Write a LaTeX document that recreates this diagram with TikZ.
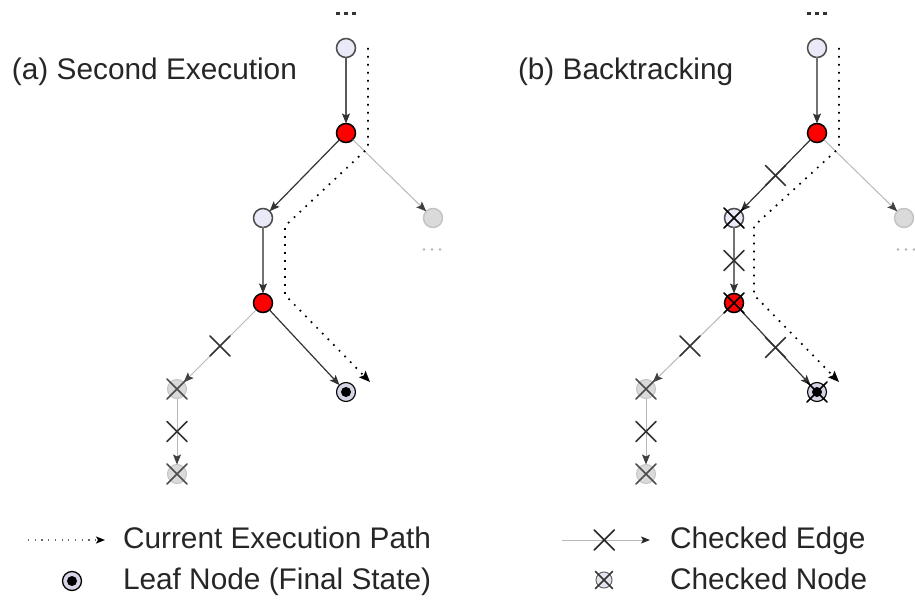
\documentclass[tikz,border=0pt]{standalone}
\usepackage{fontspec}
\setmainfont{Liberation Sans}
\usetikzlibrary{arrows.meta}

\definecolor{lav}{HTML}{E9E9F7}
\definecolor{ring}{HTML}{D4D4E4}
\definecolor{fadefill}{HTML}{DADADA}
\definecolor{fadedraw}{HTML}{C4C4C4}
\definecolor{hotred}{HTML}{FF0000}

\tikzset{
  every node/.style={inner sep=0pt, outer sep=0pt},
  state/.style={circle, minimum size=19pt, line width=1.5pt},
  plainstate/.style={state, draw=black!70, fill=lav},
  hotstate/.style={state, draw=black, fill=hotred},
  fadestate/.style={state, draw=fadedraw, fill=fadefill},
  leafstate/.style={state, draw=black, line width=1.1pt, fill=ring,
    path picture={\fill[black] (path picture bounding box.center) circle (5pt);}},
  tip/.style={-{Stealth[length=10pt,width=8pt,inset=2pt,color=#1]}},
  edge/.style={line width=1.2pt, draw=#1, tip=black!80},
  softedge/.style={line width=1pt, draw=black!28, tip=black!75},
  curpath/.style={line width=1.7pt, dash pattern=on 1.7pt off 6.3pt,
    -{Stealth[length=11pt,width=9pt,inset=2pt,color=black]}},
  pics/xcross/.style={code={\draw[-, solid, line width=1.6pt, draw=#1, line cap=round]
      (-10,-10) -- (10,10) (-10,10) -- (10,-10);}},
  pics/xcross/.default=black!80,
  label/.style={font=\fontsize{29.8}{35}\selectfont, anchor=base west, text=black!85},
}

\begin{document}
\begin{tikzpicture}[x=1pt,y=-1pt]
\useasboundingbox (0,0) rectangle (915,601);

% ---------- (a) second execution ----------
\node[label] (ta) at (12,80) {(a) Second Execution};

\foreach \dx in {-8,0,8} \fill[black!80] (346+\dx-1.6,12) rectangle ++(3.2,3.2);

\node[plainstate] (a1) at (346,48) {};
\node[hotstate]   (a2) at (346,133) {};
\node[plainstate] (a3) at (263,218) {};
\node[fadestate]  (a4) at (433,218) {};
\node[hotstate]   (a5) at (263,303) {};
\node[leafstate]  (a6) at (346,392) {};
\node[fadestate, line width=1pt]  (a7) at (177,389) {};
\node[fadestate, line width=1pt]  (a8) at (177,474) {};

\foreach \dx in {-8,0,8} \fill[black!30] (432+\dx,249.5) circle (1.4);

\draw[edge=black!65] (a1) -- (a2);
\draw[edge=black!80] (a2) -- (a3);
\draw[softedge] (a2) -- (a4);
\draw[edge=black!55] (a3) -- (a5);
\draw[edge=black!80] (a5) -- (a6);
\draw[softedge] (a5) -- (a7) coordinate[pos=0.5] (xa57);
\draw[softedge] (a7) -- (a8) coordinate[pos=0.5] (xa78);
\pic at (xa57) {xcross};
\pic at (xa78) {xcross};
\pic at (a7) {xcross=black!70};
\pic at (a8) {xcross=black!70};

\coordinate (pa0) at (368,48);
\coordinate (pa1) at (368,148);
\coordinate (pa2) at (285,226);
\coordinate (pa3) at (285,295);
\coordinate (pa4) at (370,382);
\draw[curpath] (pa0) -- (pa1) -- (pa2) -- (pa3) -- (pa4);

% ---------- (b) backtracking ----------
\node[label] (tb) at (518,80) {(b) Backtracking};

\foreach \dx in {-8,0,8} \fill[black!80] (817+\dx-1.6,12) rectangle ++(3.2,3.2);

\node[plainstate] (b1) at (817,48) {};
\node[hotstate]   (b2) at (817,133) {};
\node[plainstate] (b3) at (734,218) {};
\node[fadestate]  (b4) at (904,218) {};
\node[hotstate]   (b5) at (734,303) {};
\node[leafstate]  (b6) at (817,392) {};
\node[fadestate, line width=1pt]  (b7) at (646,389) {};
\node[fadestate, line width=1pt]  (b8) at (646,474) {};

\foreach \dx in {-8,0,8} \fill[black!30] (906+\dx,249.5) circle (1.4);

\draw[edge=black!55] (b1) -- (b2);
\draw[edge=black!80] (b2) -- (b3) coordinate[pos=0.5] (xb23);
\draw[softedge] (b2) -- (b4);
\draw[edge=black!55] (b3) -- (b5) coordinate[pos=0.5] (xb35);
\draw[edge=black!80] (b5) -- (b6) coordinate[pos=0.5] (xb56);
\draw[softedge] (b5) -- (b7) coordinate[pos=0.5] (xb57);
\draw[softedge] (b7) -- (b8) coordinate[pos=0.5] (xb78);
\foreach \c in {xb23,xb35,xb56,xb57,xb78} \pic at (\c) {xcross};
\foreach \n in {b3,b5,b6} \pic at (\n) {xcross=black};
\foreach \n in {b7,b8} \pic at (\n) {xcross=black!70};

\coordinate (pb0) at (839,48);
\coordinate (pb1) at (839,148);
\coordinate (pb2) at (754,226);
\coordinate (pb3) at (754,295);
\coordinate (pb4) at (839,382);
\draw[curpath] (pb0) -- (pb1) -- (pb2) -- (pb3) -- (pb4);

% ---------- legend ----------
\coordinate (l1a) at (28,540);
\coordinate (l1b) at (105,540);
\draw[curpath, line width=1.2pt, dash pattern=on 1.2pt off 5.5pt, draw=black!60,
  -{Stealth[length=9pt,width=7pt,inset=2pt,color=black]}] (l1a) -- (l1b);
\node[label] (t1) at (123,548) {Current Execution Path};

\node[leafstate, minimum size=19pt, line width=1.3pt,
  path picture={\fill[black] (path picture bounding box.center) circle (5pt);}]
  (leg2) at (72,581) {};
\node[label] (t2) at (123,589) {Leaf Node (Final State)};

\coordinate (l3a) at (562,540);
\coordinate (l3b) at (650,540);
\draw[softedge, -{Stealth[length=9pt,width=7pt,inset=2pt,color=black!85]}]
  (l3a) -- (l3b) coordinate[pos=0.48] (xl3);
\pic at (xl3) {xcross=black!85};
\node[label] (t3) at (670,548) {Checked Edge};

\node[state, minimum size=16pt, line width=1pt, draw=black!60, fill=lav!70!fadefill]
  (leg4) at (604,580) {};
\pic[scale=0.85] at (leg4) {xcross=black!80};
\node[label] (t4) at (670,589) {Checked Node};
\end{tikzpicture}
\end{document}
